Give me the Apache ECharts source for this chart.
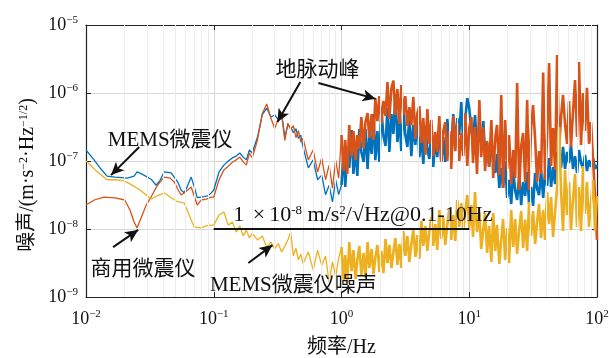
<!DOCTYPE html>
<html>
<head>
<meta charset="utf-8">
<script src="https://cdn.jsdelivr.net/npm/echarts@6/dist/echarts.min.js"></script>
<style>
  html, body { margin: 0; padding: 0; background: #fff; }
  #chart { width: 609px; height: 358px; }
</style>
</head>
<body>
<div id="chart"></div>
<script>
// values in nm·s^-2·Hz^-1/2 (1e-9 m·s^-2·Hz^-1/2)
const NM = 1e-9;

// low-frequency part, [frequency Hz, value]
const memsLow = [[0.01,145],[0.0112,112],[0.0129,79],[0.0146,60],[0.0169,58],[0.0210,56],[0.0238,60],[0.0251,69],[0.0275,64],[0.0323,54],[0.0354,44],[0.0380,52],[0.0409,69],[0.0464,67],[0.0526,48],[0.0556,37],[0.0587,34],[0.0620,42],[0.0666,58],[0.0703,42],[0.0742,29],[0.0842,30],[0.0906,31],[0.0956,34]];
const commLow = [[0.01,22.5],[0.0116,26.7],[0.0138,29.5],[0.0169,28.6],[0.0201,26.7],[0.0221,19],[0.0238,12.7],[0.0251,10.4],[0.0270,14.5],[0.0296,22.5],[0.0323,29.5],[0.0360,43],[0.0409,58],[0.0456,56],[0.0490,49],[0.0527,37.5],[0.0556,31.6],[0.0587,33.8],[0.0666,41.5],[0.0742,22.5],[0.0798,26.7],[0.0874,27.5],[0.0956,29.5]];
const noiseLow = [[0.01,100],[0.0118,74],[0.0146,53],[0.0169,53],[0.0199,51],[0.0221,46],[0.0265,37.5],[0.0323,27.6],[0.0360,30.6],[0.0409,33.8],[0.0456,29.5],[0.0508,25.8],[0.0587,24.1],[0.0620,19],[0.0666,13.6],[0.0703,10.7],[0.0798,10.4],[0.0874,11.1],[0.0956,11.4]];

// 0.1 - 100 Hz frequency bins shared by the three traces
const bandFreq = [
  0.10,0.11,0.12,0.13,0.14,0.15,0.16,0.17,0.18,0.19,
  0.20,0.22,0.24,0.26,0.28,0.30,0.32,0.34,0.36,0.38,0.40,0.42,0.44,0.46,0.48,
  0.50,0.55,0.60,0.65,0.70,0.75,0.80,0.85,0.90,0.95,
  1.00,1.04,1.07,1.11,1.15,1.20,1.24,1.29,1.33,1.38,
  1.43,1.49,1.54,1.60,1.65,1.72,1.78,1.84,1.91,1.98,
  2.05,2.13,2.21,2.29,2.37,2.46,2.55,2.64,2.74,2.84,
  2.94,3.05,3.16,3.28,3.40,3.52,3.65,3.79,3.92,4.07,
  4.22,4.37,4.53,4.70,4.87,5.05,5.23,5.42,5.62,5.83,
  6.04,6.26,6.49,6.73,6.98,7.23,7.50,7.77,8.06,8.35,
  8.66,8.98,9.31,9.65,10.0,10.4,10.7,11.1,11.5,12.0,
  12.4,12.9,13.3,13.8,14.3,14.9,15.4,16.0,16.5,17.2,
  17.8,18.4,19.1,19.8,20.5,21.3,22.1,22.9,23.7,24.6,
  25.5,26.4,27.4,28.4,29.4,30.5,31.6,32.8,34.0,35.2,
  36.5,37.9,39.2,40.7,42.2,43.7,45.3,47.0,48.7,50.5,
  52.3,54.2,56.2,58.3,60.4,62.6,64.9,67.3,69.8,72.3,
  75.0,77.7,80.6,83.5,86.6,89.8,93.1,96.5,100
];
const memsBand = [
  37.5,69,87,100,111,118,131,114,104,145,
  131,225,480,600,444,475,401,508,225,338,316,260,300,215,240,
  161,79,104,53,62,32,44,25,53,32,
  44.4,145,41.5,140,78.9,286,64.4,161,60.2,296,
  136,96.6,296,76.3,250,127,491,103,276,96.6,
  582,233,166,601,136,491,250,967,190,444,
  140,622,241,161,459,118,338,172,508,114,
  241,90.3,330,150,107,276,81.6,211,114,338,
  96.6,225,96.6,415,204,166,491,155,429,241,
  737,184,415,844,601,276,204,475,155,338,
  178,387,118,184,81.6,204,100,66.6,127,40.1,
  78.9,40.1,100,28.6,52.6,23.3,71.3,36.2,26.7,60.2,
  22.5,49.1,30.6,69,23.3,41.5,21.8,66.6,38.7,31.6,
  73.7,28.6,66.6,42.9,110.6,41.5,81.6,45.9,136,87.4,
  78.9,161,76.3,136,93.4,172,76.3,118,66.6,145,
  93.4,78.9,122.5,71.3,103,81.6,110.6,76.3,87.4
];
const commBand = [
  29.5,53,74,84,96,104,114,97,87,131,
  111,204,500,690,430,300,420,480,200,360,290,330,220,280,190,
  215,104,145,69,111,53,87,40,104,56,
  241,71.3,204,64.4,338,118,276,103,241,150,
  444,155,375,508,218,491,204,844,387,903,
  350,763,459,1451,415,1184,1520,475,1145,350,
  1311,475,903,327,622,338,873,211,500,644,
  184,429,122.5,582,178,401,118,267,136,459,
  96.6,276,375,100,276,76.3,459,140,362,100,
  258,118,508,84.4,306,444,93.4,316,64.4,789,
  114,316,71.3,197,81.6,401,56.2,225,338,62.3,
  935,40.1,401,76.3,241,45.9,145,56.2,1400,37.5,
  166,258,49.1,789,37.5,306,666,204,49.1,140,
  64.4,2000,52.6,218,2760,84.4,306,73.7,3620,155,
  444,935,350,178,763,161,525,1550,225,2860,
  172,1000,276,1190,178,375,103,31.6,6.9
];
const noiseBand = [
  11.4,16.1,17.8,11.4,12.7,9.0,11.1,7.9,9.7,7.4,
  8.6,6.9,7.9,5.4,6.4,5.1,6.1,4.6,5.6,6.9,9.0,4.0,5.2,3.5,4.3,
  3.1,4.6,2.5,4.9,2.9,4.0,1.66,3.3,2.0,3.7,
  5.44,1.78,4.15,1.61,6.44,2.41,4.91,1.84,3.50,5.63,
  2.11,4.44,1.91,6.44,2.67,5.08,2.17,3.75,5.82,2.33,
  4.75,2.25,7.13,3.16,5.82,2.67,4.59,7.37,2.96,6.02,
  2.67,9.35,4.01,7.89,3.27,6.02,9.67,3.88,8.16,3.62,
  13.1,5.63,11.1,4.75,9.04,15.0,5.63,11.8,4.91,19.0,
  7.13,15.0,5.82,11.45,19.7,6.89,16.1,6.66,26.7,10.7,
  24.1,9.67,18.4,31.6,10.3,22.5,7.63,35.0,9.04,17.8,
  5.08,10.0,17.2,4.44,11.1,3.27,17.2,4.75,11.45,3.06,
  6.89,14.0,3.50,10.3,3.16,19.0,5.44,14.0,4.29,9.67,
  18.4,5.26,13.8,4.75,24.9,7.89,18.4,6.02,13.1,23.3,
  7.37,19.0,6.89,35.0,11.8,29.5,7.63,17.8,41.5,316,
  36.2,9.35,73.7,16.1,49.1,9.67,27.6,64.4,10.7,41.5,
  9.35,84.4,16.6,49.1,10.7,26.7,52.6,9.35,30.6
];

const xDecades = [0.01, 0.1, 1, 10];
const yDecades = [1e-9, 1e-8, 1e-7, 1e-6];
const minorSteps = [2, 3, 4, 5, 6, 7, 8, 9];

// annotation texts and arrows, in data coordinates
const notes = [
  {text: 'MEMS微震仪', at: [0.0456, 2.03e-7]},
  {text: '商用微震仪', at: [0.028, 2.58e-9]},
  {text: 'MEMS微震仪噪声', at: [0.42, 1.5e-9]},
  {text: '地脉动峰', at: [0.648, 2.18e-6]},
  {text: '1 {x|×}10{sup|-8} m/s{sup|2}/√Hz@0.1-10Hz', at: [1.47, 1.6e-8], size: 22}
];
const arrows = [
  [[0.0261, 1.61e-7], [0.0157, 6.2e-8]],
  [[0.0163, 5.4e-9], [0.0256, 9.7e-9]],
  [[0.1866, 3.16e-9], [0.288, 5.8e-9]],
  [[0.476, 1.45e-6], [0.315, 3.75e-7]],
  [[0.660, 1.4e-6], [1.848, 8.2e-7]]
];
const specLine = [[0.1, 1e-8], [10, 1e-8]];

const SERIF = '"Liberation Serif", "Times New Roman", "Noto Sans CJK SC", serif';
const SPLIT_HZ = 1; // above this the traces are dense

function toPoints(low, band) {
  if (band.length !== bandFreq.length) console.error('band length', band.length, bandFreq.length);
  const pts = low.map(p => [p[0], p[1] * NM]);
  bandFreq.forEach((f, i) => pts.push([f, band[i] * NM]));
  return pts;
}

const supRich = {
  b: {fontFamily: SERIF, fontSize: 18, lineHeight: 20, color: '#111'},
  sup: {fontFamily: SERIF, fontSize: 11, lineHeight: 11, verticalAlign: 'top', color: '#111'}
};
function powLabel(v) {
  const e = Math.round(Math.log10(v));
  return '{b|10}{sup|' + String(e).replace('-', '−') + '}';
}

const minorX = [], minorY = [];
xDecades.forEach(d => minorSteps.forEach(s => minorX.push({xAxis: d * s})));
yDecades.forEach(d => minorSteps.forEach(s => minorY.push({yAxis: d * s})));

const traces = [
  {name: 'MEMS微震仪', color: '#0072BD', pts: toPoints(memsLow, memsBand)},
  {name: '商用微震仪', color: '#D95319', pts: toPoints(commLow, commBand)},
  {name: 'MEMS微震仪噪声', color: '#EDB120', pts: toPoints(noiseLow, noiseBand)}
];

const traceSeries = [];
traces.forEach(t => {
  const base = {type: 'line', name: t.name, showSymbol: false, symbol: 'none', sampling: false,
                animation: false, silent: true, z: 3};
  traceSeries.push(Object.assign({}, base, {
    data: t.pts.filter(p => p[0] <= SPLIT_HZ),
    lineStyle: {color: t.color, width: 1.3}
  }));
  traceSeries.push(Object.assign({}, base, {
    data: t.pts.filter(p => p[0] >= SPLIT_HZ),
    lineStyle: {color: t.color, width: 2.6}
  }));
});

const frameAxis = {
  type: 'log', logBase: 10,
  axisLine: {show: true, lineStyle: {color: '#222', width: 1.2}},
  axisTick: {show: true, inside: true, length: 5, lineStyle: {color: '#222'}},
  axisLabel: {show: false}, splitLine: {show: false}
};

const chart = echarts.init(document.getElementById('chart'), null, {renderer: 'canvas'});

chart.setOption({
  animation: false,
  backgroundColor: '#fff',
  grid: {left: 86, right: 12, top: 25, bottom: 61, containLabel: false, outerBoundsMode: 'none'},
  xAxis: [{
    type: 'log', logBase: 10, min: 0.01, max: 100,
    axisLine: {lineStyle: {color: '#222', width: 1.2}},
    axisTick: {inside: true, length: 5, lineStyle: {color: '#222'}},
    splitLine: {show: true, lineStyle: {color: '#d6d6d6', width: 1}},
    axisLabel: {formatter: powLabel, rich: supRich, margin: 12},
    name: '频率/Hz', nameLocation: 'middle', nameGap: 41,
    nameTextStyle: {fontFamily: SERIF, fontSize: 20, color: '#111'}
  }, Object.assign({}, frameAxis, {min: 0.01, max: 100, position: 'top'})],
  yAxis: [{
    type: 'log', logBase: 10, min: 1e-9, max: 1e-5,
    axisLine: {lineStyle: {color: '#222', width: 1.2}},
    axisTick: {inside: true, length: 5, lineStyle: {color: '#222'}},
    splitLine: {show: true, lineStyle: {color: '#d6d6d6', width: 1}},
    axisLabel: {formatter: powLabel, rich: supRich, margin: 8},
    name: '噪声/(m·s{sup|−2}·Hz{sup|−1/2})', nameLocation: 'middle', nameGap: 47, nameRotate: 90,
    nameTextStyle: {
      fontFamily: SERIF, fontSize: 20, color: '#111', padding: [0, 28, 0, 0],
      rich: {sup: {fontFamily: SERIF, fontSize: 12, verticalAlign: 'top', color: '#111'}}
    }
  }, Object.assign({}, frameAxis, {min: 1e-9, max: 1e-5, position: 'right'})],
  series: [
    {
      type: 'line', data: [], z: 1, silent: true, animation: false,
      markLine: {
        silent: true, symbol: ['none', 'none'], animation: false,
        label: {show: false},
        lineStyle: {color: '#ececec', width: 1, type: 'solid'},
        data: minorX.concat(minorY)
      }
    }
  ].concat(traceSeries, [
    {
      type: 'line', data: [], z: 10, silent: true, animation: false,
      markLine: {
        silent: true, animation: false, symbol: ['none', 'arrow'], symbolSize: [9, 13],
        label: {show: false},
        lineStyle: {color: '#111', width: 2, type: 'solid'},
        data: arrows.map(a => [{coord: a[0]}, {coord: a[1]}])
      },
      markPoint: {
        silent: true, animation: false, symbol: 'circle', symbolSize: 0,
        itemStyle: {color: 'transparent'},
        label: {
          show: true, position: 'inside', color: '#111',
          fontFamily: SERIF, fontSize: 21
        },
        data: notes.map(n => {
          const fs = n.size || 21;
          return {coord: n.at, value: 0, label: {
            formatter: n.text, fontSize: fs,
            rich: {
              sup: {fontFamily: SERIF, fontSize: 13, verticalAlign: 'top', color: '#111'},
              x: {fontFamily: SERIF, fontSize: fs, color: '#111', padding: [0, 4, 0, 3]}
            }
          }};
        })
      }
    },
    {
      type: 'line', data: [], z: 10, silent: true, animation: false,
      markLine: {
        silent: true, animation: false, symbol: ['none', 'none'],
        label: {show: false},
        lineStyle: {color: '#111', width: 2.2, type: 'solid'},
        data: [[{coord: specLine[0]}, {coord: specLine[1]}]]
      }
    }
  ])
});
</script>
</body>
</html>
